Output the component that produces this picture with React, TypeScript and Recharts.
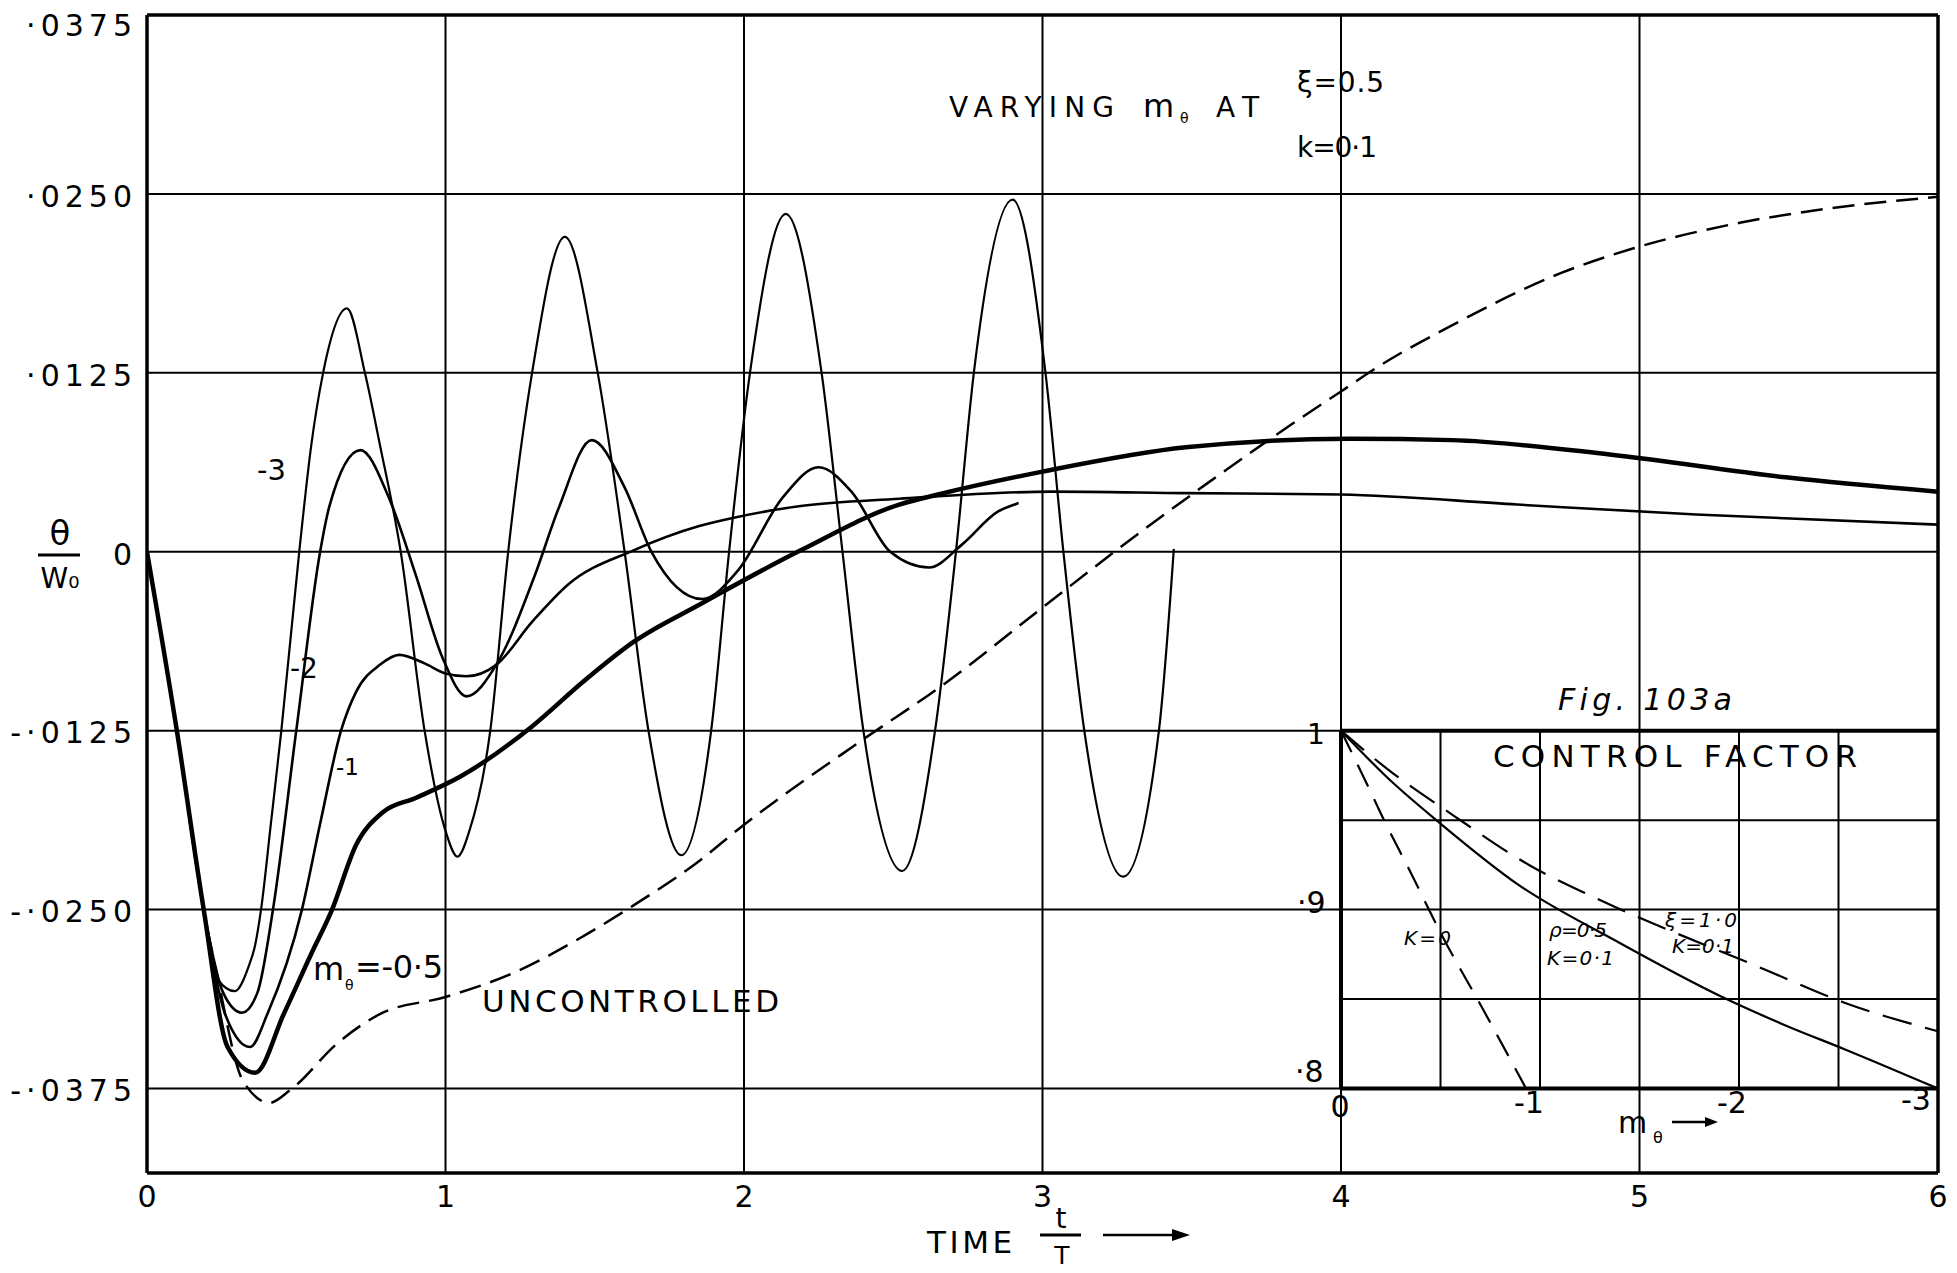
import { ComposedChart, Line, XAxis, YAxis, CartesianGrid, ReferenceLine } from 'recharts';

// main axes
const timeTicks = [0, 1, 2, 3, 4, 5, 6];
const thetaTicks = [-0.0375, -0.025, -0.0125, 0, 0.0125, 0.025, 0.0375];
const thetaDomain = [-0.0434, 0.0375];

// m_theta = -3 (largest oscillation)
const tM3 = [0, 0.1, 0.19, 0.238, 0.294, 0.34, 0.362, 0.382, 0.415, 0.45, 0.51, 0.55, 0.59, 0.67, 0.73, 0.78, 0.85, 0.93, 1.0, 1.04, 1.08, 1.15, 1.21, 1.29, 1.4, 1.51, 1.6, 1.68, 1.79, 1.89, 1.95, 2.02, 2.14, 2.26, 2.33, 2.4, 2.53, 2.64, 2.71, 2.77, 2.9, 3.01, 3.07, 3.14, 3.27, 3.39, 3.44];
const thM3 = [0, -0.0125, -0.025, -0.0299, -0.0307, -0.029, -0.0275, -0.025, -0.019, -0.0125, 0, 0.0074, 0.0125, 0.017, 0.0125, 0.0075, 0, -0.0125, -0.0195, -0.0213, -0.0195, -0.0125, 0, 0.0125, 0.022, 0.0125, 0, -0.0125, -0.0212, -0.0125, 0, 0.0125, 0.0236, 0.0125, 0, -0.0125, -0.0223, -0.0125, 0, 0.0125, 0.0246, 0.0125, 0, -0.0125, -0.0227, -0.0125, 0.0002];

// m_theta = -2
const tM2 = [0, 0.1, 0.19, 0.255, 0.318, 0.37, 0.422, 0.5, 0.58, 0.61, 0.715, 0.81, 0.9, 0.99, 1.07, 1.17, 1.3, 1.38, 1.49, 1.6, 1.69, 1.86, 1.98, 2.13, 2.25, 2.36, 2.49, 2.62, 2.73, 2.85, 2.92];
const thM2 = [0, -0.0125, -0.025, -0.0308, -0.0322, -0.0308, -0.025, -0.0125, 0, 0.0031, 0.0071, 0.0038, -0.0016, -0.0074, -0.0101, -0.0079, -0.0016, 0.0031, 0.0078, 0.0045, 0, -0.0033, -0.0013, 0.0038, 0.0059, 0.0042, 0, -0.0011, 0.0005, 0.0028, 0.0034];

// m_theta = -1
const tM1 = [0, 0.1, 0.19, 0.26, 0.345, 0.405, 0.519, 0.58, 0.65, 0.7, 0.78, 0.845, 0.93, 1.0, 1.07, 1.17, 1.29, 1.41, 1.63, 1.85, 1.97, 2.19, 2.52, 3.03, 3.48, 4.0, 4.59, 5.19, 6.0];
const thM1 = [0, -0.0125, -0.025, -0.0322, -0.0346, -0.0322, -0.025, -0.019, -0.0125, -0.0098, -0.0079, -0.0072, -0.0078, -0.0085, -0.0087, -0.0079, -0.0049, -0.0023, 0.0001, 0.0018, 0.0024, 0.0032, 0.0037, 0.0042, 0.0041, 0.004, 0.0033, 0.0026, 0.0019];

// m_theta = -0.5 (thick)
const tM05 = [0, 0.1, 0.19, 0.27, 0.362, 0.46, 0.55, 0.62, 0.7, 0.79, 0.9, 1.05, 1.29, 1.46, 1.63, 1.85, 2.19, 2.52, 2.65, 3.0, 3.48, 4.03, 4.37, 4.9, 5.49, 6.0];
const thM05 = [0, -0.0125, -0.025, -0.0346, -0.0364, -0.0322, -0.0281, -0.025, -0.0205, -0.0182, -0.0172, -0.0157, -0.0122, -0.0091, -0.0063, -0.0037, 0.0001, 0.0033, 0.004, 0.0056, 0.0073, 0.0079, 0.0078, 0.0068, 0.0052, 0.0042];

// uncontrolled (dashed)
const tUnc = [0, 0.1, 0.19, 0.238, 0.32, 0.41, 0.48, 0.64, 0.78, 1.0, 1.23, 1.45, 1.63, 1.85, 1.98, 2.4, 2.66, 3.0, 3.26, 3.56, 3.82, 4.0, 4.13, 4.37, 4.74, 4.98, 5.34, 5.64, 6.0];
const thUnc = [0, -0.0125, -0.025, -0.0299, -0.0369, -0.0385, -0.0376, -0.0343, -0.0323, -0.0311, -0.0294, -0.027, -0.0247, -0.0216, -0.0194, -0.0131, -0.0094, -0.0039, 0.0003, 0.0049, 0.0087, 0.0112, 0.013, 0.0158, 0.0195, 0.0212, 0.023, 0.024, 0.0248];

// inset, Fig. 103a: control factor against m_theta
const kZeroM = [0, -0.14, -0.225, -0.34, -0.51, -0.71, -0.93];
const kZeroV = [1, 0.968, 0.948, 0.923, 0.885, 0.845, 0.8];
const rhoM = [0, -0.25, -0.49, -0.89, -1.39, -1.9, -2.24, -2.53, -3.0];
const rhoV = [1, 0.972, 0.949, 0.914, 0.882, 0.852, 0.835, 0.822, 0.8];
const xiM = [0, -0.24, -0.56, -0.96, -1.25, -2.12, -2.53, -3.0];
const xiV = [1, 0.978, 0.953, 0.924, 0.908, 0.867, 0.848, 0.832];
const insetGridM = [-0.5, -1, -2, -2.5];
const insetGridV = [0.95, 0.85];

// inset sits on the main grid: m=0 at t=4, m=-3 at t=6; 1.0 at -.0125, .8 at -.0375
const insetMDomain = [-3, 6];
const insetVDomain = [1 + (thetaDomain[0] + 0.0125) * 8, 1 + (thetaDomain[1] + 0.0125) * 8];

const toPts = (xs: number[], ys: number[]) => xs.map((x, i) => ({ x, y: ys[i] }));

const FONT = 'DejaVu Sans';

const fmtTheta = (v: number) => {
  if (Math.abs(v) < 1e-9) return '0';
  const s = String(Math.round(Math.abs(v) * 10000)).padStart(4, '0');
  return (v < 0 ? '-' : '') + '·' + s;
};

const YTick = (p: any) => {
  const top = p.payload.value === thetaTicks[thetaTicks.length - 1];
  return (
    <text x={p.x - 2} y={p.y + (top ? 10 : 2)} dy="0.36em" textAnchor="end" fontFamily={FONT} fontSize={30} letterSpacing={5} fill="#000">
      {fmtTheta(p.payload.value)}
    </text>
  );
};

const XTick = (p: any) => (
  <text x={p.x} y={p.y + 26} textAnchor="middle" fontFamily={FONT} fontSize={30} fill="#000">
    {p.payload.value}
  </text>
);

export default function App() {
  const lineProps = { type: 'monotone' as const, dataKey: 'y', dot: false, isAnimationActive: false, stroke: '#000' };
  return (
    <div style={{ position: 'absolute', left: 0, top: 0, width: 1957, height: 1273, background: '#fff', overflow: 'hidden' }}>
      <ComposedChart width={1950} height={1265} margin={{ top: 15, right: 12, left: 0, bottom: 32 }}>
        <CartesianGrid stroke="#000" strokeWidth={2} />
        <XAxis type="number" dataKey="x" domain={[0, 6]} ticks={timeTicks} height={60} tickSize={6} tickMargin={2}
          tickLine={false} axisLine={{ stroke: '#000', strokeWidth: 3.5 }} tick={XTick} allowDataOverflow />
        <YAxis type="number" dataKey="y" domain={thetaDomain} ticks={thetaTicks} width={147} tickSize={6} tickMargin={2}
          tickLine={false} axisLine={{ stroke: '#000', strokeWidth: 3.5 }} tick={YTick} allowDataOverflow />
        <XAxis xAxisId="inset" type="number" dataKey="x" domain={insetMDomain} reversed hide allowDataOverflow />
        <YAxis yAxisId="inset" type="number" dataKey="y" domain={insetVDomain} hide allowDataOverflow />

        <ReferenceLine y={thetaTicks[thetaTicks.length - 1]} stroke="#000" strokeWidth={3.5} />
        <ReferenceLine x={timeTicks[timeTicks.length - 1]} stroke="#000" strokeWidth={3.5} />

        {/* inset grid and frame */}
        {insetGridM.map((m) => (
          <ReferenceLine key={'gm' + m} xAxisId="inset" yAxisId="inset" stroke="#000" strokeWidth={2}
            segment={[{ x: m, y: 0.8 }, { x: m, y: 1 }]} />
        ))}
        {insetGridV.map((v) => (
          <ReferenceLine key={'gv' + v} xAxisId="inset" yAxisId="inset" stroke="#000" strokeWidth={2}
            segment={[{ x: 0, y: v }, { x: -3, y: v }]} />
        ))}
        <ReferenceLine xAxisId="inset" yAxisId="inset" stroke="#000" strokeWidth={4} segment={[{ x: 0, y: 1 }, { x: -3, y: 1 }]} />
        <ReferenceLine xAxisId="inset" yAxisId="inset" stroke="#000" strokeWidth={4} segment={[{ x: 0, y: 0.8 }, { x: -3, y: 0.8 }]} />
        <ReferenceLine xAxisId="inset" yAxisId="inset" stroke="#000" strokeWidth={4} segment={[{ x: 0, y: 0.8 }, { x: 0, y: 1 }]} />

        <Line {...lineProps} data={toPts(tUnc, thUnc)} strokeWidth={2.5} strokeDasharray="22 10" />
        <Line {...lineProps} data={toPts(tM3, thM3)} strokeWidth={2.2} />
        <Line {...lineProps} data={toPts(tM2, thM2)} strokeWidth={2.6} />
        <Line {...lineProps} data={toPts(tM1, thM1)} strokeWidth={2.6} />
        <Line {...lineProps} data={toPts(tM05, thM05)} strokeWidth={4.5} />

        <Line {...lineProps} xAxisId="inset" yAxisId="inset" data={toPts(kZeroM, kZeroV)} strokeWidth={2.2} strokeDasharray="24 14" />
        <Line {...lineProps} xAxisId="inset" yAxisId="inset" data={toPts(rhoM, rhoV)} strokeWidth={2.2} />
        <Line {...lineProps} xAxisId="inset" yAxisId="inset" data={toPts(xiM, xiV)} strokeWidth={2.2} strokeDasharray="30 14" />
      </ComposedChart>

      <svg width={1957} height={1273} style={{ position: 'absolute', left: 0, top: 0, pointerEvents: 'none' }}
        fontFamily={FONT} fill="#000">
        {/* title block */}
        <text x={949} y={117} fontSize={28} textLength={165} lengthAdjust="spacing">VARYING</text>
        <text x={1143} y={117} fontSize={32}>m</text>
        <text x={1180} y={123} fontSize={14}>θ</text>
        <text x={1216} y={117} fontSize={28} textLength={43} lengthAdjust="spacing">AT</text>
        <text x={1297} y={92} fontSize={28} textLength={87} lengthAdjust="spacing">ξ=0.5</text>
        <text x={1297} y={157} fontSize={28} textLength={80} lengthAdjust="spacing">k=0·1</text>

        {/* curve labels */}
        <text x={257} y={480} fontSize={29}>-3</text>
        <text x={290} y={678} fontSize={28}>-2</text>
        <text x={336} y={775} fontSize={23}>-1</text>
        <text x={313} y={980} fontSize={32}>m</text>
        <text x={345} y={990} fontSize={14}>θ</text>
        <text x={355} y={978} fontSize={32} textLength={88} lengthAdjust="spacing">=-0·5</text>
        <text x={482} y={1012} fontSize={31} textLength={297} lengthAdjust="spacing">UNCONTROLLED</text>

        {/* y axis title */}
        <text x={60} y={545} fontSize={34} textAnchor="middle">θ</text>
        <line x1={38} x2={80} y1={555} y2={555} stroke="#000" strokeWidth={3} />
        <text x={60} y={588} fontSize={28} textAnchor="middle">W₀</text>

        {/* x axis title */}
        <text x={927} y={1253} fontSize={31} textLength={85} lengthAdjust="spacing">TIME</text>
        <text x={1061} y={1228} fontSize={28} textAnchor="middle">t</text>
        <line x1={1040} x2={1081} y1={1235} y2={1235} stroke="#000" strokeWidth={3} />
        <text x={1062} y={1264} fontSize={25} textAnchor="middle">T</text>
        <line x1={1103} x2={1176} y1={1235} y2={1235} stroke="#000" strokeWidth={2.5} />
        <polygon points="1190,1235 1172,1229 1172,1241" />

        {/* inset text */}
        <text x={1558} y={710} fontSize={30} fontStyle="italic" textLength={174} lengthAdjust="spacing">Fig. 103a</text>
        <text x={1493} y={767} fontSize={31} textLength={364} lengthAdjust="spacing">CONTROL  FACTOR</text>
        <text x={1316} y={744} fontSize={28} textAnchor="middle">1</text>
        <text x={1297} y={913} fontSize={30}>·9</text>
        <text x={1295} y={1082} fontSize={30}>·8</text>
        <text x={1340} y={1117} fontSize={30} textAnchor="middle">0</text>
        <text x={1529} y={1113} fontSize={30} textAnchor="middle">-1</text>
        <text x={1732} y={1113} fontSize={30} textAnchor="middle">-2</text>
        <text x={1916} y={1110} fontSize={30} textAnchor="middle">-3</text>
        <text x={1618} y={1133} fontSize={30}>m</text>
        <text x={1653} y={1143} fontSize={16}>θ</text>
        <line x1={1672} x2={1708} y1={1122} y2={1122} stroke="#000" strokeWidth={2.5} />
        <polygon points="1718,1122 1705,1117 1705,1127" />
        <text x={1404} y={945} fontSize={20} fontStyle="italic" textLength={47} lengthAdjust="spacing">K=0</text>
        <text x={1549} y={937} fontSize={20} fontStyle="italic" textLength={58} lengthAdjust="spacing">ρ=0·5</text>
        <text x={1547} y={965} fontSize={20} fontStyle="italic" textLength={67} lengthAdjust="spacing">K=0·1</text>
        <text x={1665} y={927} fontSize={20} fontStyle="italic" textLength={72} lengthAdjust="spacing">ξ=1·0</text>
        <text x={1672} y={953} fontSize={20} fontStyle="italic" textLength={62} lengthAdjust="spacing">K=0·1</text>
      </svg>
    </div>
  );
}
